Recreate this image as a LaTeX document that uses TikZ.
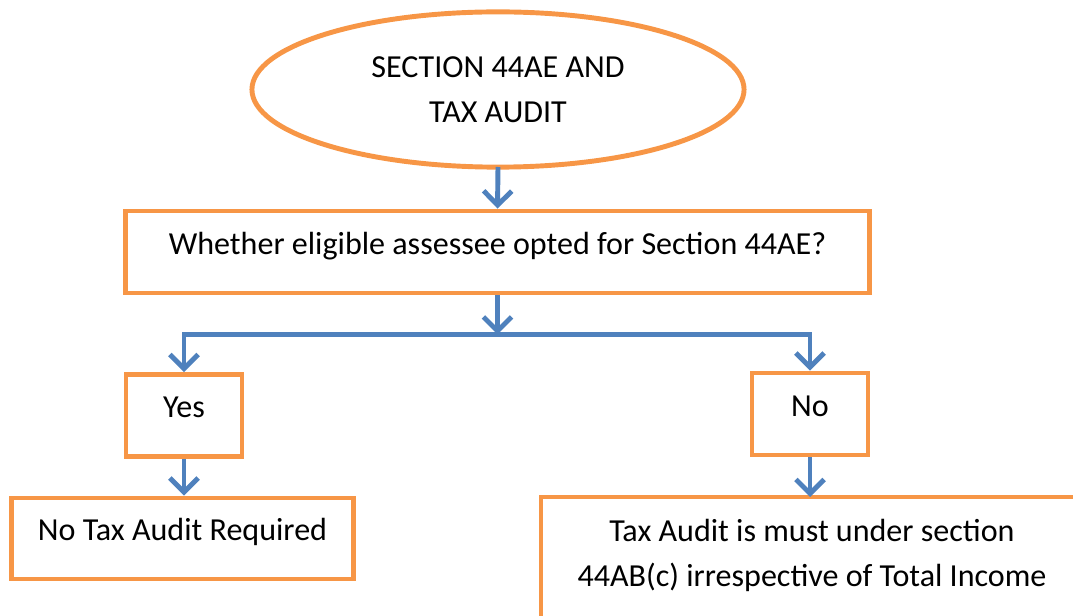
\documentclass[tikz,border=0pt]{standalone}
\usepackage{fontspec}
\setmainfont{Carlito}
\usetikzlibrary{arrows.meta}
\definecolor{boxorange}{HTML}{F79646}
\definecolor{arrowblue}{HTML}{4F81BD}
\tikzset{
  box/.style={draw=boxorange,line width=3.5pt,rectangle,align=center,inner sep=0pt},
  lifted/.style={text height=10pt,text depth=7pt},
  frame/.style={draw=boxorange,line width=3.5pt},
  flow/.style={draw=arrowblue,line width=3.5pt,-{Straight Barb[length=10pt,width=20pt]}}
}
\begin{document}
\begin{tikzpicture}[x=0.025cm,y=-0.025cm,font=\fontsize{22.8}{32}\selectfont]
	\clip (0,0) rectangle (1073,616);
	\draw[frame] (498,89.5) ellipse [x radius=6.15cm,y radius=1.94cm];
	\node[align=center] (title) at (498,89.5) {SECTION 44AE AND\\TAX AUDIT};
	\coordinate (titlebottom) at (498,167);
	\node[box,lifted,minimum width=18.575cm,minimum height=2.05cm] (question) at (497.5,252) {Whether eligible assessee opted for Section 44AE?};
	\node[box,lifted,minimum width=2.9cm,minimum height=2.05cm] (yes) at (184,415.5) {Yes};
	\node[box,lifted,minimum width=2.9cm,minimum height=2.05cm] (no) at (810,414) {No};
	\node[box,lifted,minimum width=8.525cm,minimum height=2.025cm] (noaudit) at (182.5,538.5) {No Tax Audit Required};
	\node[align=center] (audit) at (812,555) {Tax Audit is must under section\\44AB(c) irrespective of Total Income};
	% open frame round the last box, cut by the page edge
	\draw[frame] (541,650) |- (1100,497);
	\coordinate (frametop) at (812,497);
	\path (question.south) ++(0,39) coordinate (split);
	%
	\draw[flow] (titlebottom) -- (question.north);
	\draw[flow] (question.south) -- (split);
	\draw[flow] (split) -| (yes.north);
	\draw[flow] (split) -| (no.north);
	\draw[flow] (yes.south) -- (yes.south |- noaudit.north);
	\draw[flow] (no.south) -- (no.south |- frametop);
\end{tikzpicture}
\end{document}
